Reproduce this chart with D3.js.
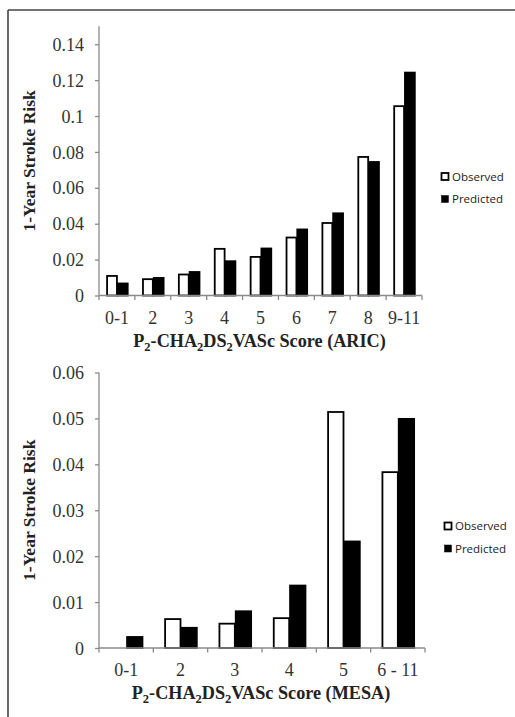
<!DOCTYPE html>
<html>
<head>
<meta charset="utf-8">
<script src="https://cdn.jsdelivr.net/npm/d3@7/dist/d3.min.js"></script>
<style>
  html, body { margin: 0; padding: 0; background: #fff; }
  svg { display: block; }
</style>
</head>
<body>
<svg id="fig" width="515" height="717"></svg>
<script>
// ARIC cohort: observed vs predicted 1-year stroke risk by score group
const aricCategories = ["0-1", "2", "3", "4", "5", "6", "7", "8", "9-11"];
const aricObserved   = [0.0109, 0.0091, 0.0117, 0.0260, 0.0215, 0.0323, 0.0404, 0.0772, 0.1055];
const aricPredicted  = [0.0067, 0.0098, 0.0131, 0.0191, 0.0262, 0.0368, 0.0458, 0.0744, 0.1242];
const aricTicks      = [0, 0.02, 0.04, 0.06, 0.08, 0.1, 0.12, 0.14];

// MESA cohort
const mesaCategories = ["0-1", "2", "3", "4", "5", "6 - 11"];
const mesaObserved   = [0, 0.0063, 0.0053, 0.0065, 0.0514, 0.0383];
const mesaPredicted  = [0.0024, 0.0044, 0.0080, 0.0136, 0.0232, 0.0499];
const mesaTicks      = [0, 0.01, 0.02, 0.03, 0.04, 0.05, 0.06];

const seriesNames = ["Observed", "Predicted"];
const yTitle = "1-Year Stroke Risk";

const svg = d3.select("#fig");

// frame around the figure
svg.append("line").attr("x1", 8).attr("x2", 515).attr("y1", 10).attr("y2", 10)
  .attr("stroke", "#444").attr("stroke-width", 1.6);
svg.append("line").attr("x1", 8).attr("x2", 8).attr("y1", 10).attr("y2", 717)
  .attr("stroke", "#444").attr("stroke-width", 1.6);

const serif = "'Liberation Serif', 'Times New Roman', serif";
const sans = "'Open Sans', 'Noto Sans', sans-serif";

function panel(opts) {
  const { cats, obs, pred, ticks, yMax, x0, x1, yBase, yTop, cohort,
          labelY, titleY, legend } = opts;
  const g = svg.append("g");

  const x = d3.scaleBand().domain(cats).range([x0, x1]).paddingInner(0).paddingOuter(0);
  const bw = x.bandwidth();
  const xs = d3.scaleBand().domain(seriesNames).range([bw * 0.2, bw * 0.8]);
  const y = d3.scaleLinear().domain([0, yMax]).range([yBase, yTop]);

  // y axis
  const yAxis = d3.axisLeft(y).tickValues(ticks).tickSize(4).tickPadding(11)
    .tickFormat(d => d === 0 ? "0" : String(+d.toFixed(3)));
  const ya = g.append("g").attr("transform", `translate(${x0},0)`).call(yAxis);
  ya.select(".domain").remove();
  ya.append("line").attr("x1", 0).attr("x2", 0).attr("y1", yTop).attr("y2", yBase)
    .attr("stroke", "#8a8a8a").attr("stroke-width", 1.3);
  ya.selectAll(".tick line").attr("stroke", "#8a8a8a").attr("stroke-width", 1.3);
  ya.selectAll(".tick text").attr("font-family", serif).attr("font-size", 18)
    .attr("fill", "#333").attr("dy", "0.34em");

  // bars
  const rows = cats.map((c, i) => ({ c, vals: [
    { s: "Observed", v: obs[i] }, { s: "Predicted", v: pred[i] }] }));
  const grp = g.selectAll("g.cat").data(rows).join("g")
    .attr("class", "cat").attr("transform", d => `translate(${x(d.c)},0)`);
  grp.selectAll("rect").data(d => d.vals.filter(v => v.v > 0)).join("rect")
    .attr("x", d => xs(d.s) + 0.9)
    .attr("width", xs.bandwidth() - 0.9)
    .attr("y", d => y(d.v))
    .attr("height", d => yBase - y(d.v))
    .attr("fill", d => d.s === "Observed" ? "#fff" : "#000")
    .attr("stroke", "#000").attr("stroke-width", 1.8);

  // x axis
  const xg = g.append("g");
  xg.append("line").attr("x1", x0).attr("x2", x1).attr("y1", yBase).attr("y2", yBase)
    .attr("stroke", "#8a8a8a").attr("stroke-width", 1.3);
  const bounds = cats.map(c => x(c)).concat([x1]);
  xg.selectAll("line.tk").data(bounds).join("line").attr("class", "tk")
    .attr("x1", d => d).attr("x2", d => d).attr("y1", yBase).attr("y2", yBase + 4.5)
    .attr("stroke", "#8a8a8a").attr("stroke-width", 1.3);
  xg.selectAll("text.cl").data(cats).join("text").attr("class", "cl")
    .attr("x", d => x(d) + bw / 2).attr("y", labelY)
    .attr("text-anchor", "middle").attr("font-family", serif).attr("font-size", 18)
    .attr("fill", "#333").text(d => d);

  // x title with subscripts
  const t = g.append("text").attr("x", (x0 + x1) / 2 - 1).attr("y", titleY)
    .attr("text-anchor", "middle").attr("font-family", serif).attr("font-size", 18.2)
    .attr("font-weight", "bold").attr("fill", "#222");
  const parts = [["P", 0], ["2", 1], ["-CHA", 0], ["2", 1], ["DS", 0], ["2", 1],
                 [`VASc Score (${cohort})`, 0]];
  parts.forEach(([s, sub], i) => {
    const ts = t.append("tspan").text(s);
    if (sub) ts.attr("font-size", 12.5).attr("dy", 4);
    else ts.attr("dy", i > 0 && parts[i - 1][1] === 1 ? -4 : 0);
  });

  // y title
  g.append("text")
    .attr("transform", `translate(35,${(yTop + yBase) / 2}) rotate(-90)`)
    .attr("text-anchor", "middle").attr("font-family", serif).attr("font-size", 17.5)
    .attr("font-weight", "bold").attr("fill", "#222").text(yTitle);

  // legend
  const lg = g.append("g");
  seriesNames.forEach((s, i) => {
    const ly = legend.y + i * legend.gap;
    lg.append("rect").attr("x", legend.x).attr("y", ly - 7.5).attr("width", 7).attr("height", 7)
      .attr("fill", s === "Observed" ? "#fff" : "#000")
      .attr("stroke", "#000").attr("stroke-width", s === "Observed" ? 1.8 : 0.5);
    lg.append("text").attr("x", legend.x + 10.5).attr("y", ly)
      .attr("font-family", sans).attr("font-size", 11.5).attr("fill", "#222").text(s);
  });
}

panel({
  cats: aricCategories, obs: aricObserved, pred: aricPredicted, ticks: aricTicks,
  yMax: 0.15, x0: 99, x1: 422, yBase: 295.5, yTop: 26.3, cohort: "ARIC",
  labelY: 324, titleY: 347, legend: { x: 441.5, y: 180.5, gap: 22.5 }
});

panel({
  cats: mesaCategories, obs: mesaObserved, pred: mesaPredicted, ticks: mesaTicks,
  yMax: 0.06, x0: 99, x1: 425, yBase: 648, yTop: 372.5, cohort: "MESA",
  labelY: 676, titleY: 699, legend: { x: 444.5, y: 530, gap: 22.5 }
});
</script>
</body>
</html>
